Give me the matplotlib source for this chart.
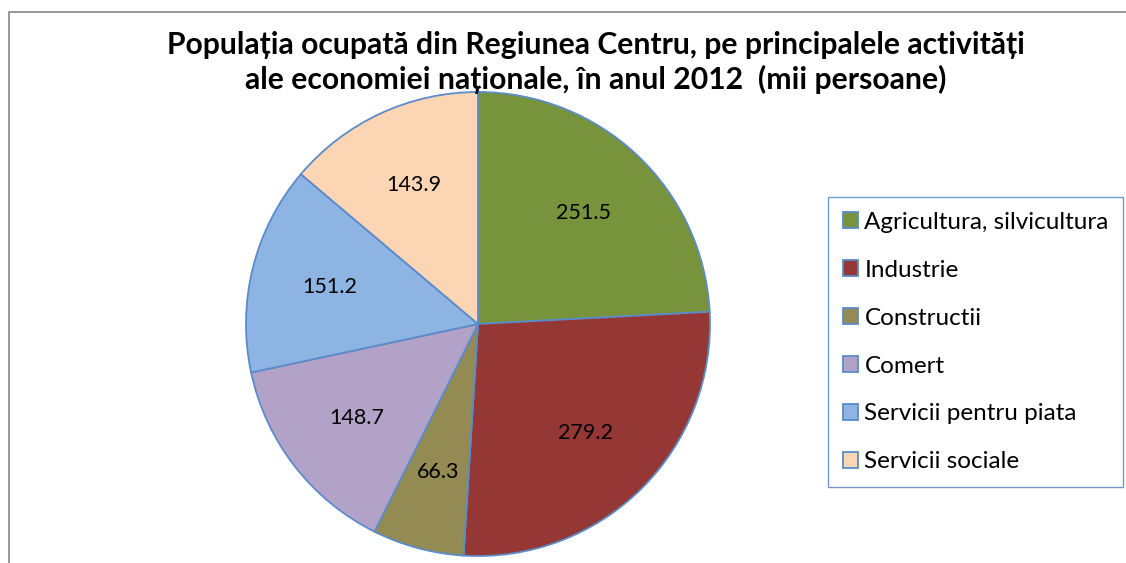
import matplotlib
matplotlib.use("Agg")
import matplotlib.pyplot as plt
from matplotlib.patches import Rectangle

categories = ["Agricultura, silvicultura", "Industrie", "Constructii", "Comert",
              "Servicii pentru piata", "Servicii sociale"]
values = [251.5, 279.2, 66.3, 148.7, 151.2, 143.9]
colors = ["#77933C", "#953735", "#948A54", "#B3A2C7", "#8EB4E3", "#FCD5B5"]
title_lines = ["Populația ocupată din Regiunea Centru, pe principalele activități",
               "ale economiei naționale, în anul 2012  (mii persoane)"]

plt.rcParams['font.family'] = ['Lato', 'DejaVu Sans']
W, H = 1126, 563
fig = plt.figure(figsize=(W/100, H/100), dpi=100)

# outer frame (cropped at right and bottom)
fig.patches.append(Rectangle((9/W, 0 - 0.01), 1.2, (H-12)/H + 0.01, transform=fig.transFigure,
                             fill=False, edgecolor="#868686", linewidth=1.2))

cx, cy, R = 478, 324, 232
ax = fig.add_axes([(cx-R)/W, (H-cy-R)/H, 2*R/W, 2*R/H])
wedges, texts = ax.pie(values, colors=colors, startangle=90, counterclock=False,
                       labels=[f"{v:.1f}" for v in values], labeldistance=0.66,
                       wedgeprops=dict(edgecolor="#5B8BC9", linewidth=1.3),
                       textprops=dict(fontsize=15.5, color="black"))
for t in texts:
    t.set_ha("center"); t.set_va("center")
ax.set_xlim(-1, 1); ax.set_ylim(-1, 1)
ax.set_aspect("equal")

fig.text(596/W, 1 - 45/H, title_lines[0], ha="center", va="center", fontsize=21.7,
         fontweight="bold")
fig.text(596/W, 1 - 79/H, title_lines[1], ha="center", va="center", fontsize=21.7,
         fontweight="bold")

leg = fig.legend(wedges, categories, loc="upper left",
                 bbox_to_anchor=(828/W, 1 - 197/H), frameon=True, fontsize=17.5,
                 handlelength=0.62, handleheight=0.62, handletextpad=0.28,
                 labelspacing=1.11, borderpad=0.6, borderaxespad=0, fancybox=False)
leg.get_frame().set_edgecolor("#4F81BD")
leg.get_frame().set_linewidth(1.0)
for h in leg.legend_handles:
    h.set_edgecolor("#5B8BC9")

fig.savefig("out.png", dpi=100)
